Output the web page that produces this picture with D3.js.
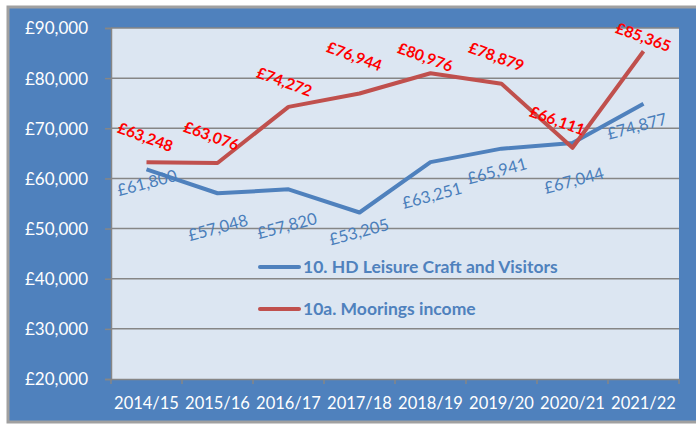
<!DOCTYPE html>
<html lang="en">
<head>
<meta charset="UTF-8">
<title>Leisure craft and moorings income</title>
<style>
  html, body { margin: 0; padding: 0; background: #fff; }
  svg text { font-family: Lato, Calibri, "Open Sans", sans-serif; }
</style>
</head>
<body>
<div id="chart"></div>
<script src="https://d3js.org/d3.v7.min.js"></script>
<script>
const years = ["2014/15", "2015/16", "2016/17", "2017/18", "2018/19", "2019/20", "2020/21", "2021/22"];
const leisure = [61800, 57048, 57820, 53205, 63251, 65941, 67044, 74877];
const moorings = [63248, 63076, 74272, 76944, 80976, 78879, 66111, 85365];
const yTicks = [20000, 30000, 40000, 50000, 60000, 70000, 80000, 90000];
const seriesNames = ["10. HD Leisure Craft and Visitors", "10a. Moorings income"];

// hand-placed data label nudges (like dragged labels in the original)
const moorNudgeX = [-3, -8, -6, -7, -7, -7, -17, -2];
const moorNudgeY = [-20, -22, -20, -32, -11, -22, -22, -9];
const leisNudgeX = [2, 2, 0, 1, 3, -3, 3, -5];
const leisNudgeY = [19, 40, 42, 25, 39, 28, 43, 28];

const width = 696, height = 426;
const plot = { left: 111, right: 679, top: 28, bottom: 379 };
const blue = "#4F81BD", red = "#C0504D";

const svg = d3.select("#chart").append("svg")
    .attr("width", width).attr("height", height);

// outer frame
svg.append("rect")
    .attr("x", 8).attr("y", 7)
    .attr("width", 700).attr("height", 415)
    .attr("fill", blue)
    .attr("stroke", "#A0A0A0").attr("stroke-width", 3);

svg.append("rect")
    .attr("x", plot.left).attr("y", plot.top)
    .attr("width", plot.right - plot.left).attr("height", plot.bottom - plot.top)
    .attr("fill", "#DCE6F2");

const x = d3.scaleBand().domain(years).range([plot.left, plot.right]);
const y = d3.scaleLinear().domain([20000, 90000]).range([plot.bottom, plot.top]);
const cx = d => x(d) + x.bandwidth() / 2;

// y axis with gridlines
const yAxis = svg.append("g")
    .attr("transform", `translate(${plot.left},0)`)
    .call(d3.axisLeft(y).tickValues(yTicks).tickSize(6).tickPadding(17)
        .tickFormat(d => "£" + d3.format(",")(d)));
yAxis.select(".domain").attr("stroke", "#868686").attr("stroke-width", 1.5);
yAxis.selectAll(".tick line").attr("stroke", "#868686").attr("stroke-width", 1.5);
yAxis.selectAll(".tick text").attr("fill", "#fff").attr("font-size", 17).attr("dy", "0.35em");

svg.append("g").selectAll("line")
    .data(yTicks.slice(1))
    .join("line")
    .attr("x1", plot.left).attr("x2", plot.right)
    .attr("y1", d => y(d)).attr("y2", d => y(d))
    .attr("stroke", "#868686").attr("stroke-width", 1.5);

// x axis
const xAxis = svg.append("g")
    .attr("transform", `translate(0,${plot.bottom})`)
    .call(d3.axisBottom(x).tickSize(0).tickPadding(18));
xAxis.select(".domain").attr("stroke", "#868686").attr("stroke-width", 1.5);
xAxis.selectAll(".tick text").attr("fill", "#fff").attr("font-size", 16.5).attr("dy", "0.75em");

svg.append("g").selectAll("line")
    .data(d3.range(years.length + 1))
    .join("line")
    .attr("x1", i => plot.left + i * x.bandwidth())
    .attr("x2", i => plot.left + i * x.bandwidth())
    .attr("y1", plot.bottom).attr("y2", plot.bottom + 5)
    .attr("stroke", "#868686").attr("stroke-width", 1.5);

// lines
const line = d3.line().x((d, i) => cx(years[i])).y(d => y(d));
[[leisure, blue], [moorings, red]].forEach(([vals, col]) => {
  svg.append("path")
      .datum(vals)
      .attr("d", line)
      .attr("fill", "none")
      .attr("stroke", col)
      .attr("stroke-width", 4)
      .attr("stroke-linejoin", "round");
});

// data labels
const fmt = d => "£" + d3.format(",")(d);
svg.append("g").selectAll("text")
    .data(moorings)
    .join("text")
    .attr("transform", (d, i) => `translate(${cx(years[i]) + moorNudgeX[i]},${y(d) + moorNudgeY[i]}) rotate(20)`)
    .attr("text-anchor", "middle")
    .attr("font-size", 15.5).attr("font-weight", "bold")
    .attr("fill", "#FF0000")
    .text(fmt);

svg.append("g").selectAll("text")
    .data(leisure)
    .join("text")
    .attr("transform", (d, i) => `translate(${cx(years[i]) + leisNudgeX[i]},${y(d) + leisNudgeY[i]}) rotate(-15)`)
    .attr("text-anchor", "middle")
    .attr("font-size", 16.5)
    .attr("fill", "#4A7EBB")
    .text(fmt);

// legend
const legend = svg.append("g").attr("transform", "translate(260,267)");
seriesNames.forEach((name, i) => {
  const g = legend.append("g").attr("transform", `translate(0,${i * 42})`);
  g.append("line").attr("x1", 0).attr("x2", 39)
      .attr("stroke", i === 0 ? blue : red).attr("stroke-width", 4).attr("stroke-linecap", "round");
  g.append("text").attr("x", 43).attr("dy", "0.35em")
      .attr("font-size", 17.5).attr("font-weight", "bold")
      .attr("fill", blue)
      .text(name);
});
</script>
</body>
</html>
